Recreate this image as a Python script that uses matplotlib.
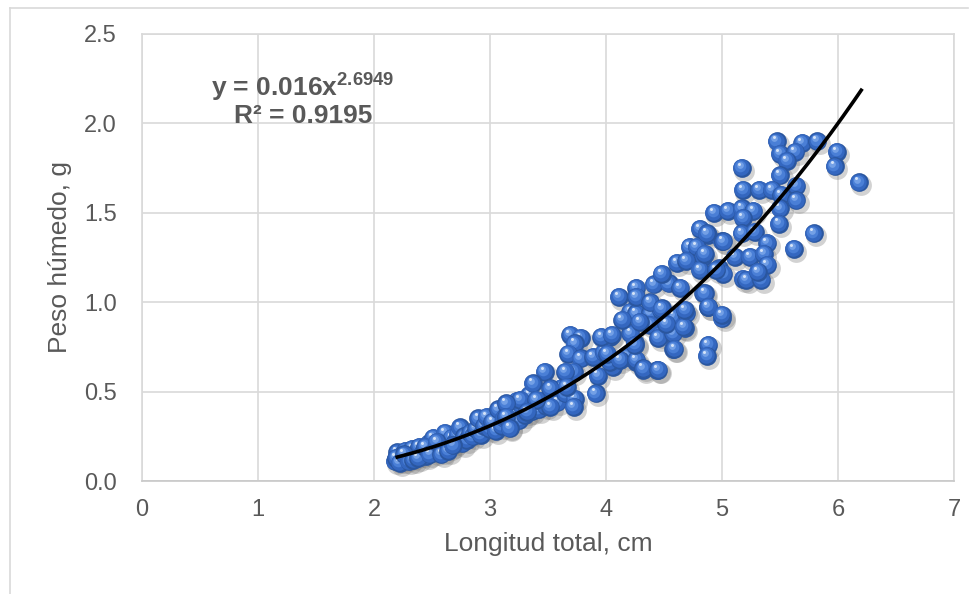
import matplotlib
matplotlib.use("Agg")
import matplotlib.pyplot as plt
import matplotlib.transforms as mtransforms
from matplotlib.lines import Line2D
import numpy as np

plt.rcParams["font.family"] = ["Liberation Sans", "DejaVu Sans"]
plt.rcParams["mathtext.fontset"] = "custom"
plt.rcParams["mathtext.rm"] = "Liberation Sans:bold"
plt.rcParams["mathtext.default"] = "rm"

# ---------------------------------------------------------------------------
# Data
# ---------------------------------------------------------------------------

# lower, dense part of the cloud
x_low = [2.18, 2.20, 2.21, 2.23, 2.25, 2.27, 2.29, 2.31, 2.33, 2.35, 2.37, 2.39,
         2.41, 2.43, 2.45, 2.47, 2.49, 2.51, 2.53, 2.55, 2.57, 2.59, 2.61, 2.63,
         2.65, 2.67, 2.70, 2.72, 2.74, 2.76, 2.78, 2.80, 2.83, 2.85, 2.88, 2.90,
         2.92, 2.95, 2.97, 3.00, 3.02, 3.05, 3.07, 3.10, 3.12, 3.15, 3.17, 3.20,
         3.23, 3.25, 3.28, 3.30, 3.34, 3.36, 3.38, 3.42, 3.45, 3.48, 3.53, 3.55,
         3.58, 3.62, 3.65,
         2.19, 2.22, 2.26, 2.30, 2.34, 2.38, 2.44, 2.48, 2.54, 2.58, 2.64, 2.68]
y_low = [0.11, 0.16, 0.12, 0.14, 0.12, 0.17, 0.13, 0.15, 0.18, 0.14, 0.16, 0.19,
         0.15, 0.17, 0.14, 0.21, 0.18, 0.24, 0.16, 0.20, 0.22, 0.17, 0.27, 0.21,
         0.19, 0.24, 0.22, 0.26, 0.30, 0.21, 0.25, 0.23, 0.27, 0.25, 0.29, 0.35,
         0.26, 0.31, 0.36, 0.29, 0.33, 0.28, 0.40, 0.31, 0.35, 0.42, 0.30, 0.38,
         0.45, 0.34, 0.41, 0.37, 0.48, 0.39, 0.43, 0.40, 0.45, 0.42, 0.47, 0.50,
         0.44, 0.52, 0.49,
         0.13, 0.10, 0.15, 0.11, 0.12, 0.13, 0.19, 0.15, 0.22, 0.15, 0.17, 0.20]

# middle part
x_mid = [3.69, 3.78, 3.73, 3.675, 3.78, 3.89, 3.98, 4.03, 3.96, 4.25, 4.26, 4.32,
         4.44, 4.06, 3.93, 3.91, 3.73, 3.72, 3.72, 3.65, 3.47, 3.37, 3.52, 3.66,
         3.52, 3.26, 3.40, 3.14, 3.14, 3.32, 3.17, 4.21, 4.26, 4.38, 4.47, 4.38,
         4.58, 4.69, 4.68, 4.58, 4.47, 4.18, 4.03, 4.01, 4.12, 4.26, 4.32, 4.45,
         4.05, 4.21, 4.25, 4.45, 4.58, 4.59, 4.88, 4.87, 4.14, 4.29, 4.52, 4.67]
y_mid = [0.817, 0.80, 0.77, 0.71, 0.686, 0.695, 0.72, 0.807, 0.807, 0.77, 0.667, 0.62,
         0.62, 0.64, 0.59, 0.49, 0.46, 0.415, 0.61, 0.61, 0.61, 0.546, 0.518, 0.527,
         0.415, 0.453, 0.453, 0.434, 0.36, 0.387, 0.295, 0.947, 0.938, 0.938, 0.956, 0.872,
         0.92, 0.938, 0.854, 0.74, 0.817, 0.695, 0.667, 0.71, 0.677, 0.677, 0.63, 0.62,
         0.817, 0.826, 0.76, 0.80, 0.826, 0.74, 0.76, 0.70, 0.90, 0.89, 0.88, 0.863]

# upper part
x_high = [4.11, 4.26, 4.26, 4.41, 4.54, 4.64, 4.84, 4.38, 4.48, 4.68, 4.88, 5.00,
          4.81, 4.88, 4.72, 4.78, 4.84, 5.00, 4.61, 4.48, 4.69, 4.81, 4.97, 5.01,
          5.18, 5.47, 5.69, 5.82, 5.99, 5.97, 6.18, 5.17, 5.50, 5.63, 5.56, 5.50,
          5.18, 5.32, 5.43, 5.51, 5.64, 5.64, 5.50, 5.49, 5.79, 5.62, 4.93, 5.05,
          5.17, 5.27, 5.18, 4.87, 5.01, 5.17, 5.28, 5.39, 5.11, 5.24, 5.36, 5.39,
          5.21, 5.34, 5.31, 4.95, 4.85, 4.85, 4.88, 5.00]
y_high = [1.03, 1.08, 1.03, 1.10, 1.105, 1.08, 1.05, 1.00, 0.966, 0.956, 0.975, 0.91,
          1.41, 1.376, 1.31, 1.31, 1.255, 1.34, 1.22, 1.16, 1.23, 1.18, 1.19, 1.16,
          1.13, 1.90, 1.89, 1.90, 1.84, 1.76, 1.67, 1.75, 1.83, 1.84, 1.79, 1.71,
          1.63, 1.63, 1.63, 1.60, 1.65, 1.57, 1.525, 1.44, 1.385, 1.30, 1.50, 1.51,
          1.525, 1.51, 1.47, 1.385, 1.34, 1.385, 1.395, 1.33, 1.255, 1.255, 1.27, 1.21,
          1.125, 1.125, 1.17, 1.18, 1.27, 1.05, 0.975, 0.93]

# power trend line y = a * x^b
trend_a = 0.016
trend_b = 2.6949
trend_r2 = 0.9195
trend_x0, trend_x1 = 2.2, 6.2

x_ticks = [0, 1, 2, 3, 4, 5, 6, 7]
y_ticks = [0.0, 0.5, 1.0, 1.5, 2.0, 2.5]

xs = x_low + x_mid + x_high
ys = y_low + y_mid + y_high

# ---------------------------------------------------------------------------
# Figure
# ---------------------------------------------------------------------------

TEXT = "#595959"
GRID = "#d9d9d9"

fig = plt.figure(figsize=(9.74, 5.94), dpi=100)
ax = fig.add_axes([0.1458, 0.1902, 0.8337, 0.7526])

ax.set_xlim(0, 7)
ax.set_ylim(0, 2.5)
ax.set_xticks(x_ticks)
ax.set_yticks(y_ticks)
ax.set_yticklabels([f"{v:.1f}" for v in y_ticks])
ax.grid(True, color=GRID, linewidth=1.2)
ax.set_axisbelow(True)
for side in ["left", "right", "top", "bottom"]:
    ax.spines[side].set_color(GRID)
    ax.spines[side].set_linewidth(1.2)
ax.spines["bottom"].set_color("#c8c8c8")
ax.tick_params(length=0, labelsize=17, colors=TEXT)
ax.tick_params(axis="x", pad=13)
ax.tick_params(axis="y", pad=18)
ax.set_xlabel("Longitud total, cm", fontsize=19, color=TEXT, labelpad=8)
ax.set_ylabel("Peso húmedo, g", fontsize=19, color=TEXT, labelpad=9)

# glossy sphere markers: shadow, base, highlight layers
ms = 13.5
shadow_tr = mtransforms.offset_copy(ax.transData, fig=fig, x=1.8, y=-2.2, units="points")
ax.plot(xs, ys, "o", ms=ms + 1.5, color="#7f7f7f", alpha=0.35, mew=0,
        transform=shadow_tr, zorder=2)

layers = [
    (1.00, "#2a569f", 0.0, 0.0),
    (0.88, "#3467c0", -0.4, 0.5),
    (0.62, "#4a7fd6", -0.9, 1.2),
    (0.36, "#73a0e6", -1.5, 2.0),
    (0.16, "#d6e4f8", -2.0, 2.9),
]
layer_tr = [mtransforms.offset_copy(ax.transData, fig=fig, x=dx, y=dy, units="points")
            for _, _, dx, dy in layers]

z = 3.0
for xi, yi in zip(xs, ys):
    for (scale, col, _, _), tr in zip(layers, layer_tr):
        ax.plot([xi], [yi], "o", ms=ms * scale, color=col, mew=0,
                transform=tr, zorder=z)
        z += 0.0001

# trend line
tx = np.linspace(trend_x0, trend_x1, 200)
ax.plot(tx, trend_a * tx ** trend_b, color="black", linewidth=2.6, zorder=10)

# equation label
ax.text(0.198, 0.879, r"y = 0.016x$^{2.6949}$", transform=ax.transAxes,
        fontsize=19, fontweight="bold", color=TEXT, ha="center", va="center", zorder=11)
ax.text(0.198, 0.817, "R² = 0.9195", transform=ax.transAxes,
        fontsize=19, fontweight="bold", color=TEXT, ha="center", va="center", zorder=11)

# chart-area border (top and left edge visible in the reference)
fig.add_artist(Line2D([10 / 974, 10 / 974], [0, 1 - 8 / 594], color=GRID, linewidth=1.2))
fig.add_artist(Line2D([10 / 974, 968 / 974], [1 - 8 / 594, 1 - 8 / 594], color=GRID, linewidth=1.2))

fig.savefig("out.png", dpi=100)
